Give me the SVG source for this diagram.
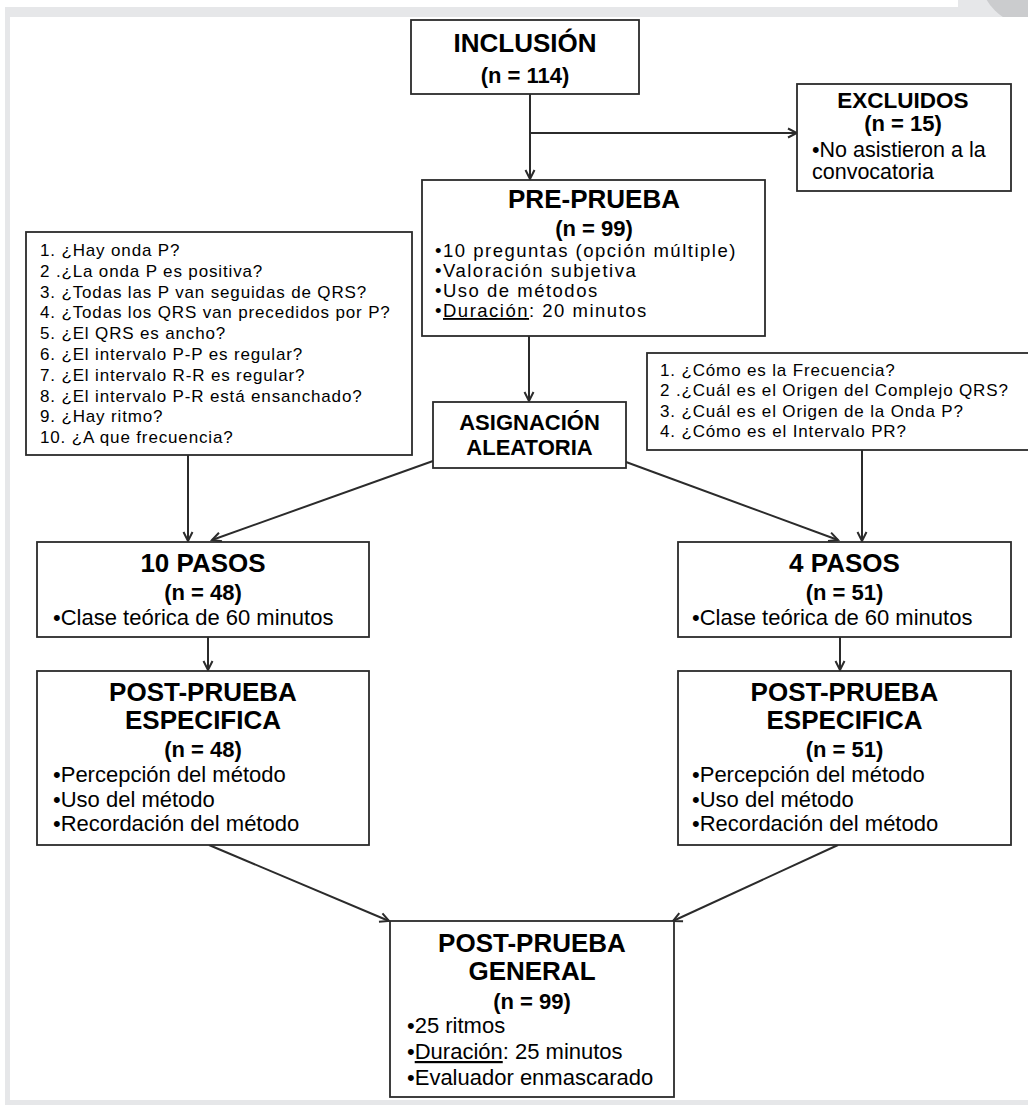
<svg xmlns="http://www.w3.org/2000/svg" width="1028" height="1105" viewBox="0 0 1028 1105">
<style>
.box{fill:#fff;stroke:#2b2b2b;stroke-width:1.8}
.t{font-family:"Liberation Sans",Arial,sans-serif;fill:#000}
.title{font-size:26px;font-weight:bold;text-anchor:middle}
.n{font-size:22px;font-weight:bold;text-anchor:middle}
.b{font-size:22px}
.p{font-size:18.5px;letter-spacing:1.5px}
.q{font-size:17px;letter-spacing:0.85px}
.c{fill:none;stroke:#2b2b2b;stroke-width:2}
</style>
<defs>
<marker id="ah" markerUnits="userSpaceOnUse" markerWidth="12" markerHeight="12" viewBox="-1 -6 12 12" refX="9" refY="0" orient="auto">
<path d="M0,-4.5 L9,0 L0,4.5" fill="none" stroke="#2b2b2b" stroke-width="2"/>
</marker>
<clipPath id="topclip"><rect x="0" y="0" width="1028" height="17"/></clipPath>
</defs>
<rect x="0" y="0" width="1028" height="1105" fill="#fff"/>
<g id="frame">
<rect x="958" y="0" width="70" height="17" fill="#e6e7e9"/>
<rect x="5" y="7" width="1023" height="10" fill="#e6e7e9"/>
<rect x="5" y="7" width="5" height="1098" fill="#e6e7e9"/>
<rect x="5" y="1100" width="1023" height="5" fill="#e6e7e9"/>
<circle cx="1030" cy="-25" r="50" fill="#cbccce" clip-path="url(#topclip)"/>
</g>
<g id="connectors">
<line class="c" x1="530" y1="94" x2="530" y2="179" marker-end="url(#ah)"/>
<line class="c" x1="530" y1="133" x2="797" y2="133" marker-end="url(#ah)"/>
<line class="c" x1="529" y1="336" x2="529" y2="401" marker-end="url(#ah)"/>
<line class="c" x1="188" y1="455" x2="188" y2="541" marker-end="url(#ah)"/>
<line class="c" x1="433" y1="461" x2="212" y2="540" marker-end="url(#ah)"/>
<line class="c" x1="626" y1="462" x2="838" y2="540" marker-end="url(#ah)"/>
<line class="c" x1="862" y1="450" x2="862" y2="541" marker-end="url(#ah)"/>
<line class="c" x1="208" y1="637" x2="208" y2="670" marker-end="url(#ah)"/>
<line class="c" x1="840" y1="637" x2="840" y2="670" marker-end="url(#ah)"/>
<line class="c" x1="209" y1="845" x2="389" y2="921" marker-end="url(#ah)"/>
<line class="c" x1="838" y1="845" x2="673" y2="921" marker-end="url(#ah)"/>
</g>
<g id="inclusion">
<rect class="box" x="411" y="20" width="228" height="74"/>
<text class="t title" x="525" y="52">INCLUSIÓN</text>
<text class="t n" x="525" y="83">(n = 114)</text>
</g>
<g id="excluidos">
<rect class="box" x="797" y="84" width="214" height="107"/>
<text class="t n" x="903" y="108" style="font-size:22.5px">EXCLUIDOS</text>
<text class="t n" x="903" y="131">(n = 15)</text>
<text class="t b" x="812" y="157" style="font-size:21.5px">•No asistieron a la</text>
<text class="t b" x="812" y="179" style="font-size:21.5px">convocatoria</text>
</g>
<g id="preprueba">
<rect class="box" x="422" y="180" width="343" height="156"/>
<text class="t title" x="594" y="208">PRE-PRUEBA</text>
<text class="t n" x="594" y="236">(n = 99)</text>
<text class="t p" x="435" y="257">•10 preguntas (opción múltiple)</text>
<text class="t p" x="435" y="277">•Valoración subjetiva</text>
<text class="t p" x="435" y="297">•Uso de métodos</text>
<text class="t p" x="435" y="317">•<tspan text-decoration="underline">Duración</tspan>: 20 minutos</text>
</g>
<g id="preguntas10">
<rect class="box" x="26" y="232" width="386" height="223"/>
<text class="t q" x="40" y="256">1. ¿Hay onda P?</text>
<text class="t q" x="40" y="276.8">2 .¿La onda P es positiva?</text>
<text class="t q" x="40" y="297.6">3. ¿Todas las P van seguidas de QRS?</text>
<text class="t q" x="40" y="318.4">4. ¿Todas los QRS van precedidos por P?</text>
<text class="t q" x="40" y="339.2">5. ¿El QRS es ancho?</text>
<text class="t q" x="40" y="360">6. ¿El intervalo P-P es regular?</text>
<text class="t q" x="40" y="380.8">7. ¿El intervalo R-R es regular?</text>
<text class="t q" x="40" y="401.6">8. ¿El intervalo P-R está ensanchado?</text>
<text class="t q" x="40" y="422.4">9. ¿Hay ritmo?</text>
<text class="t q" x="40" y="443.2">10. ¿A que frecuencia?</text>
</g>
<g id="preguntas4">
<rect class="box" x="647" y="353" width="395" height="97"/>
<text class="t q" x="660" y="376">1. ¿Cómo es la Frecuencia?</text>
<text class="t q" x="660" y="396.3">2 .¿Cuál es el Origen del Complejo QRS?</text>
<text class="t q" x="660" y="416.7">3. ¿Cuál es el Origen de la Onda P?</text>
<text class="t q" x="660" y="437">4. ¿Cómo es el Intervalo PR?</text>
</g>
<g id="asignacion">
<rect class="box" x="433" y="402" width="193" height="66"/>
<text class="t n" x="529.5" y="430">ASIGNACIÓN</text>
<text class="t n" x="529.5" y="455">ALEATORIA</text>
</g>
<g id="pasos10">
<rect class="box" x="37" y="542" width="332" height="95"/>
<text class="t title" x="203" y="572">10 PASOS</text>
<text class="t n" x="203" y="600">(n = 48)</text>
<text class="t b" x="53" y="625">•Clase teórica de 60 minutos</text>
</g>
<g id="pasos4">
<rect class="box" x="678" y="542" width="333" height="95"/>
<text class="t title" x="844.5" y="572">4 PASOS</text>
<text class="t n" x="844.5" y="600">(n = 51)</text>
<text class="t b" x="692" y="625">•Clase teórica de 60 minutos</text>
</g>
<g id="post10">
<rect class="box" x="37" y="671" width="332" height="174"/>
<text class="t title" x="203" y="701">POST-PRUEBA</text>
<text class="t title" x="203" y="729">ESPECIFICA</text>
<text class="t n" x="203" y="757">(n = 48)</text>
<text class="t b" x="53" y="782">•Percepción del método</text>
<text class="t b" x="53" y="807">•Uso del método</text>
<text class="t b" x="53" y="831">•Recordación del método</text>
</g>
<g id="post4">
<rect class="box" x="678" y="671" width="333" height="174"/>
<text class="t title" x="844.5" y="701">POST-PRUEBA</text>
<text class="t title" x="844.5" y="729">ESPECIFICA</text>
<text class="t n" x="844.5" y="757">(n = 51)</text>
<text class="t b" x="692" y="782">•Percepción del método</text>
<text class="t b" x="692" y="807">•Uso del método</text>
<text class="t b" x="692" y="831">•Recordación del método</text>
</g>
<g id="general">
<rect class="box" x="390" y="921" width="284" height="176"/>
<text class="t title" x="532" y="952">POST-PRUEBA</text>
<text class="t title" x="532" y="980">GENERAL</text>
<text class="t n" x="532" y="1009">(n = 99)</text>
<text class="t b" x="407" y="1033">•25 ritmos</text>
<text class="t b" x="407" y="1059">•<tspan text-decoration="underline">Duración</tspan>: 25 minutos</text>
<text class="t b" x="407" y="1085">•Evaluador enmascarado</text>
</g>
</svg>
